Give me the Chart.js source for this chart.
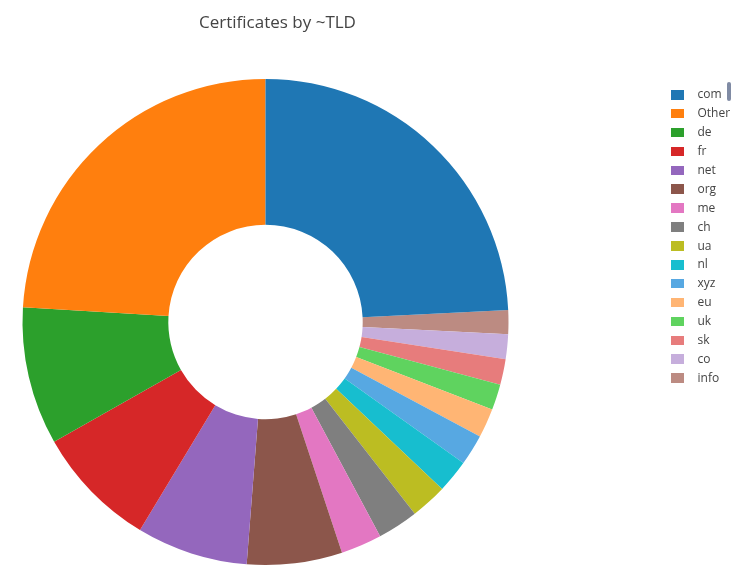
<!DOCTYPE html>
<html>
<head>
<meta charset="utf-8">
<title>Certificates by ~TLD</title>
<script src="https://cdn.jsdelivr.net/npm/chart.js@4.4.1/dist/chart.umd.min.js"></script>
<style>
  html, body { margin: 0; padding: 0; background: #fff; }
  #wrap { position: relative; width: 745px; height: 582px; font-family: "Open Sans", sans-serif; color: #444; }
  #chartTitle { position: absolute; left: 0; top: 12px; width: 555px; text-align: center; font-size: 17px; line-height: 20px; }
  #legend { position: absolute; left: 671px; top: 85.4px; margin: 0; padding: 0; list-style: none; font-size: 12px; }
  #legend li { position: relative; height: 18.9px; line-height: 18.9px; padding-left: 26.5px; white-space: nowrap; }
  #legend li span { position: absolute; left: 0; top: 4.6px; width: 12.5px; height: 9.6px; }
  #legendScroll { position: absolute; left: 727px; top: 82px; width: 4px; height: 19px; border-radius: 2px; background: #808ba4; }
</style>
</head>
<body>
<div id="wrap">
  <canvas id="tldChart" width="745" height="582"></canvas>
  <div id="chartTitle">Certificates by ~TLD</div>
  <ul id="legend"></ul>
  <div id="legendScroll"></div>
</div>
<script>
// legend order (largest first), share of certificates in %
const tldLabels = ['com', 'Other', 'de', 'fr', 'net', 'org', 'me', 'ch', 'ua', 'nl', 'xyz', 'eu', 'uk', 'sk', 'co', 'info'];
const tldShares = [24.21, 24.03, 9.17, 8.15, 7.40, 6.33, 2.72, 2.71, 2.42, 2.19, 2.06, 1.93, 1.71, 1.71, 1.64, 1.59];
const tldColors = [
  '#1f77b4', '#ff7f0e', '#2ca02c', '#d62728', '#9467bd', '#8c564b', '#e377c2', '#7f7f7f',
  '#bcbd22', '#17becf', '#57a8e2', '#ffb574', '#5fd35f', '#e77c7c', '#c6aedc', '#bc8b82'
];

// slices run counterclockwise from com in the original; Chart.js goes clockwise, so feed it reversed
const sliceLabels = tldLabels.slice().reverse();
const sliceValues = tldShares.slice().reverse();
const sliceColors = tldColors.slice().reverse();
const shareTotal = tldShares.reduce((a, b) => a + b, 0);
const startAngle = tldShares[0] / shareTotal * 360;

// html legend built from the chart's own legend items
const htmlLegend = {
  id: 'htmlLegend',
  afterUpdate(chart) {
    const list = document.getElementById('legend');
    list.innerHTML = '';
    const items = chart.options.plugins.legend.labels.generateLabels(chart).reverse();
    items.forEach(item => {
      const li = document.createElement('li');
      const box = document.createElement('span');
      box.style.background = item.fillStyle;
      li.appendChild(box);
      li.appendChild(document.createTextNode(item.text));
      list.appendChild(li);
    });
  }
};

const ctx = document.getElementById('tldChart').getContext('2d');
new Chart(ctx, {
  type: 'doughnut',
  data: {
    labels: sliceLabels,
    datasets: [{
      data: sliceValues,
      backgroundColor: sliceColors,
      borderWidth: 0,
      hoverOffset: 0
    }]
  },
  options: {
    responsive: false,
    animation: false,
    cutout: '40%',
    rotation: startAngle,
    layout: { padding: { left: 22, top: 79, right: 236, bottom: 17 } },
    plugins: {
      legend: { display: false },
      title: { display: false },
      tooltip: { enabled: false }
    }
  },
  plugins: [htmlLegend]
});
</script>
</body>
</html>
